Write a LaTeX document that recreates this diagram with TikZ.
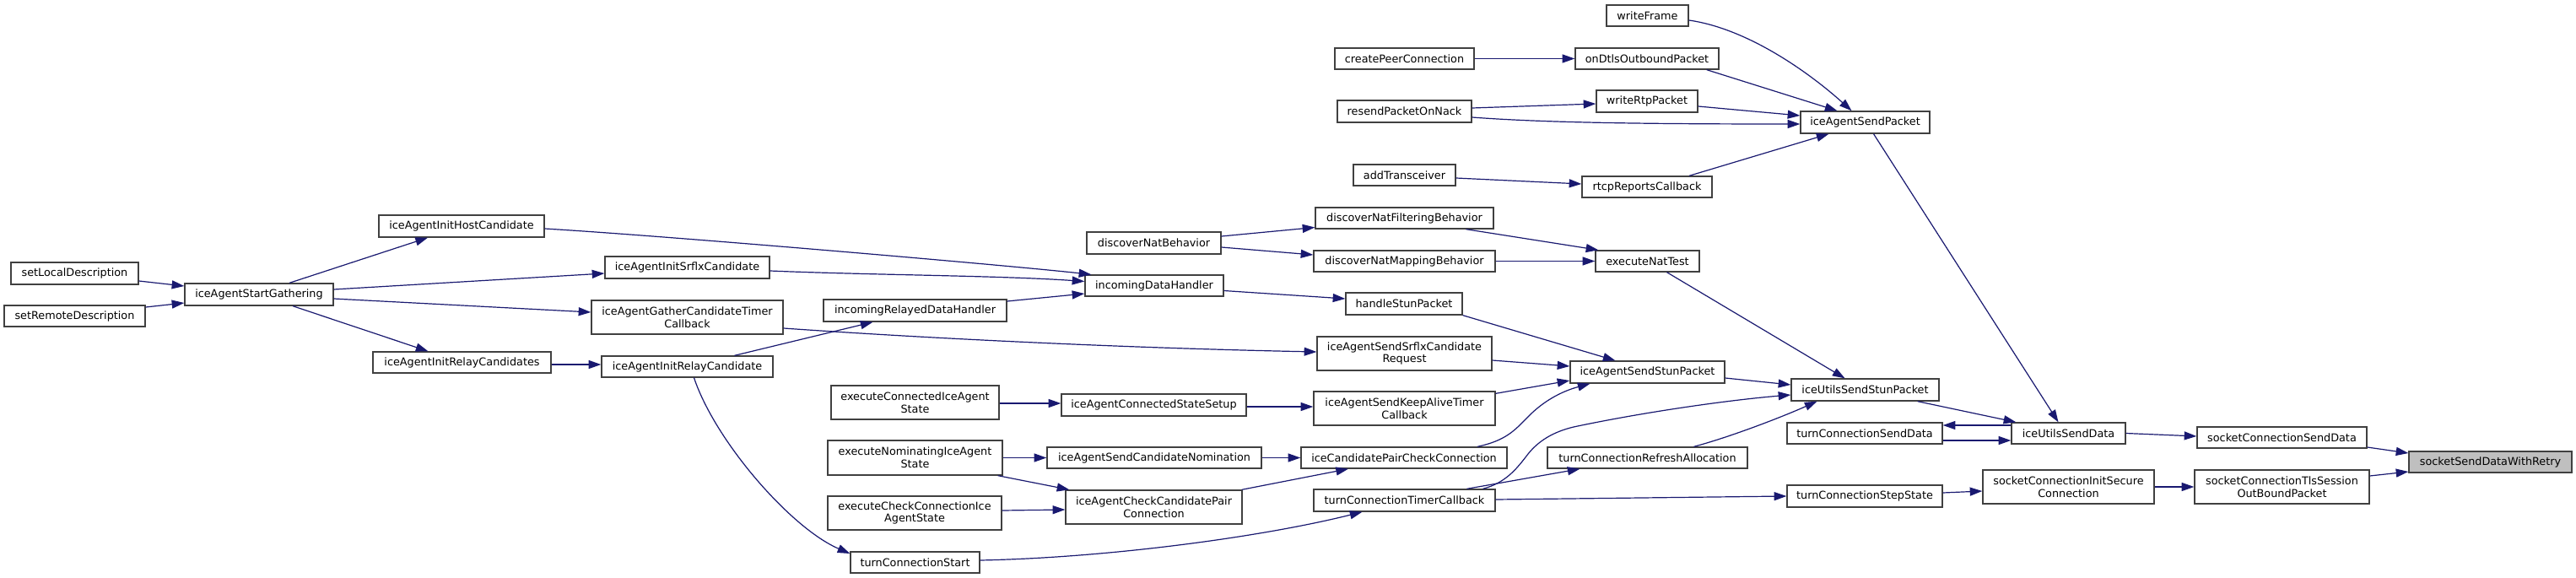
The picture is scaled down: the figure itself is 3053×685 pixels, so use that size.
\documentclass[tikz,border=0pt]{standalone}
\usepackage{fontspec}
\setmainfont{DejaVu Sans}
\usetikzlibrary{arrows.meta,calc}
\definecolor{edgec}{HTML}{191970}
\definecolor{boxc}{HTML}{404040}
\definecolor{hl}{HTML}{BFBFBF}
\begin{document}
\begin{tikzpicture}[x=0.75pt,y=-0.75pt,
  fn/.style={draw=boxc, line width=1pt, fill=white, inner sep=0pt, align=center,
             font=\fontsize{9.6}{11}\selectfont, text=black},
  sz/.style 2 args={minimum width=#1*0.75pt, minimum height=#2*0.75pt},
  edge/.style={draw=edgec, line width=0.9pt, -{Triangle[length=11pt,width=7.5pt]}}]
\fill[white] (0,0) rectangle (3053,685);
\useasboundingbox (0,0) rectangle (3053,685);
% column 1
\node[fn,sz={151}{26}] (setLocal) at (88.5,324) {setLocalDescription};
\node[fn,sz={167}{25}] (setRemote) at (88.5,374.5) {setRemoteDescription};
% column 2
\node[fn,sz={176}{26}] (gather) at (307,349) {iceAgentStartGathering};
% column 3
\node[fn,sz={196}{26}] (host) at (547,268) {iceAgentInitHostCandidate};
\node[fn,sz={211}{25}] (relays) at (547.5,429.5) {iceAgentInitRelayCandidates};
% column 4
\node[fn,sz={195}{26}] (srflx) at (814.5,317) {iceAgentInitSrflxCandidate};
\node[fn,sz={227}{40}] (gtimer) at (814.5,376) {iceAgentGatherCandidateTimer\\Callback};
\node[fn,sz={203}{25}] (relay) at (814.5,434.5) {iceAgentInitRelayCandidate};
% column 5
\node[fn,sz={217}{26}] (relayed) at (1084.5,368) {incomingRelayedDataHandler};
\node[fn,sz={199}{40}] (execConn) at (1084.5,477) {executeConnectedIceAgent\\State};
\node[fn,sz={207}{41}] (execNom) at (1084.5,542.5) {executeNominatingIceAgent\\State};
\node[fn,sz={206}{40}] (execCheck) at (1084,608) {executeCheckConnectionIce\\AgentState};
\node[fn,sz={153}{25}] (tstart) at (1084.5,666.5) {turnConnectionStart};
% column 6
\node[fn,sz={159}{26}] (natb) at (1367.5,288) {discoverNatBehavior};
\node[fn,sz={164}{25}] (incoming) at (1368,338.5) {incomingDataHandler};
\node[fn,sz={219}{26}] (connSetup) at (1367.5,480) {iceAgentConnectedStateSetup};
\node[fn,sz={254}{25}] (sendNom) at (1368,542.5) {iceAgentSendCandidateNomination};
\node[fn,sz={209}{40}] (checkPair) at (1367.5,601) {iceAgentCheckCandidatePair\\Connection};
% column 7
\node[fn,sz={165}{25}] (createPeer) at (1664.5,69.5) {createPeerConnection};
\node[fn,sz={159}{26}] (resend) at (1664.5,132) {resendPacketOnNack};
\node[fn,sz={121}{25}] (addTr) at (1664.5,207.5) {addTransceiver};
\node[fn,sz={211}{25}] (natFilt) at (1664.5,258.5) {discoverNatFilteringBehavior};
\node[fn,sz={215}{25}] (natMap) at (1664.5,309.5) {discoverNatMappingBehavior};
\node[fn,sz={138}{26}] (handleStun) at (1664,360) {handleStunPacket};
\node[fn,sz={207}{40}] (srflxReq) at (1664.5,419) {iceAgentSendSrflxCandidate\\Request};
\node[fn,sz={215}{40}] (keepAlive) at (1664.5,484) {iceAgentSendKeepAliveTimer\\Callback};
\node[fn,sz={244}{25}] (pairCheck) at (1664,542.5) {iceCandidatePairCheckConnection};
\node[fn,sz={215}{26}] (ttimer) at (1664.5,593) {turnConnectionTimerCallback};
% column 8
\node[fn,sz={97}{25}] (writeFrame) at (1952.5,18.5) {writeFrame};
\node[fn,sz={170}{25}] (onDtls) at (1952,69.5) {onDtlsOutboundPacket};
\node[fn,sz={120}{26}] (writeRtp) at (1952,120) {writeRtpPacket};
\node[fn,sz={154}{25}] (rtcp) at (1952,221.5) {rtcpReportsCallback};
\node[fn,sz={123}{25}] (natTest) at (1952.5,309.5) {executeNatTest};
\node[fn,sz={183}{26}] (sendStun) at (1952.5,441) {iceAgentSendStunPacket};
\node[fn,sz={237}{25}] (refresh) at (1952.5,542.5) {turnConnectionRefreshAllocation};
% column 9
\node[fn,sz={153}{26}] (sendPacket) at (2210.5,145) {iceAgentSendPacket};
\node[fn,sz={175}{26}] (utilsStun) at (2210.5,462) {iceUtilsSendStunPacket};
\node[fn,sz={184}{25}] (turnSend) at (2210,513.5) {turnConnectionSendData};
\node[fn,sz={184}{26}] (stepState) at (2210,588) {turnConnectionStepState};
% column 10
\node[fn,sz={135}{25}] (utilsData) at (2451.5,513.5) {iceUtilsSendData};
\node[fn,sz={203}{40}] (initSecure) at (2451.5,577) {socketConnectionInitSecure\\Connection};
% column 11
\node[fn,sz={201}{25}] (connSend) at (2704.5,518.5) {socketConnectionSendData};
\node[fn,sz={207}{40}] (tlsOut) at (2704.5,577) {socketConnectionTlsSession\\OutBoundPacket};
% column 12
\node[fn,sz={193}{25},fill=hl] (retry) at (2951.5,547.5) {socketSendDataWithRetry};

% edges
\draw[edge] ($(setLocal.east)+(0,9)$) -- ($(gather.west)+(0,-10)$);
\draw[edge] ($(setRemote.east)+(0,-10.5)$) -- ($(gather.west)+(0,10)$);
\draw[edge] ($(gather.north)+(36,0)$) -- ($(host.south)+(-40,0)$);
\draw[edge] ($(gather.east)+(0,-6)$) -- ($(srflx.west)+(0,7)$);
\draw[edge] ($(gather.east)+(0,5)$) -- ($(gtimer.west)+(0,-6)$);
\draw[edge] ($(gather.south)+(40,0)$) -- ($(relays.north)+(-40,0)$);
\draw[edge] ($(relays.east)+(0,2.5)$) -- ($(relay.west)+(0,-2.5)$);
\draw[edge] ($(host.east)+(0,3)$) .. controls +(150,9) and +(-100,-11) .. ($(incoming.north west)+(8,0)$);
\draw[edge] ($(srflx.east)+(0,4)$) .. controls +(120,5) and +(-100,-7) .. ($(incoming.west)+(0,-5)$);
\draw[edge] ($(relayed.east)+(0,-11)$) -- ($(incoming.west)+(0,9.5)$);
\draw[edge] ($(relay.north)+(56,0)$) -- ($(relayed.south)+(-50,0)$);
\draw[edge] ($(gtimer.east)+(0,13)$) .. controls +(200,14) and +(-200,-4) .. ($(srflxReq.west)+(0,-2)$);
\draw[edge] ($(relay.south)+(8,0)$) .. controls +(25,75) and +(-70,-30) .. ($(tstart.west)+(0,-10.5)$);
\draw[edge] ($(natb.east)+(0,-8)$) -- ($(natFilt.west)+(0,11)$);
\draw[edge] ($(natb.east)+(0,5)$) -- ($(natMap.west)+(0,-7.5)$);
\draw[edge] ($(incoming.east)+(0,6)$) -- ($(handleStun.west)+(0,-6)$);
\draw[edge] ($(execConn.east)+(0,1)$) -- ($(connSetup.west)+(0,-2)$);
\draw[edge] ($(connSetup.east)+(0,2)$) -- ($(keepAlive.west)+(0,-2)$);
\draw[edge] (execNom.east) -- (sendNom.west);
\draw[edge] ($(execNom.south east)+(-6,0)$) -- ($(checkPair.north west)+(5,0)$);
\draw[edge] ($(execCheck.east)+(0,-3)$) -- ($(checkPair.west)+(0,3)$);
\draw[edge] (sendNom.east) -- (pairCheck.west);
\draw[edge] ($(checkPair.north east)+(-1,0)$) -- ($(pairCheck.south)+(-66,0)$);
\draw[edge] ($(tstart.east)+(0,-2.5)$) .. controls +(150,-3) and +(-120,30) .. ($(ttimer.south)+(-50,0)$);
\draw[edge] (createPeer.east) -- (onDtls.west);
\draw[edge] ($(resend.east)+(0,-4)$) -- ($(writeRtp.west)+(0,3)$);
\draw[edge] ($(resend.east)+(0,7)$) .. controls +(80,6) and +(-200,0) .. ($(sendPacket.west)+(0,2)$);
\draw[edge] ($(addTr.east)+(0,3.5)$) -- ($(rtcp.west)+(0,-3.5)$);
\draw[edge] ($(writeFrame.east)+(0,5.5)$) .. controls +(70,10) and +(-50,-45) .. ($(sendPacket.north)+(-16,0)$);
\draw[edge] ($(onDtls.south east)+(-15,0)$) -- ($(sendPacket.north)+(-33,0)$);
\draw[edge] ($(writeRtp.east)+(0,6)$) -- ($(sendPacket.west)+(0,-8)$);
\draw[edge] ($(rtcp.north)+(50,0)$) -- ($(sendPacket.south)+(-43,0)$);
\draw[edge] ($(natFilt.south)+(73,0)$) -- ($(natTest.north west)+(4,0)$);
\draw[edge] (natMap.east) -- (natTest.west);
\draw[edge] ($(natTest.south)+(23,0)$) -- ($(utilsStun.north)+(-24,0)$);
\draw[edge] (handleStun.south east) -- ($(sendStun.north)+(-38,0)$);
\draw[edge] ($(srflxReq.east)+(0,8)$) -- ($(sendStun.west)+(0,-7)$);
\draw[edge] ($(keepAlive.north east)+(0,3)$) -- ($(sendStun.west)+(0,10)$);
\draw[edge] ($(pairCheck.north)+(87,0)$) .. controls (1785,522) and (1795,510) .. (1810,495) .. controls (1828,476) and (1850,464) .. ($(sendStun.south)+(-68,0)$);
\draw[edge] ($(ttimer.north)+(93,0)$) .. controls (1785,572) and (1798,555) .. (1811,538) .. controls (1823,523) and (1840,512) .. (1865,506) .. controls (1950,488) and (2050,474) .. ($(utilsStun.west)+(0,6)$);
\draw[edge] ($(ttimer.north)+(74,0)$) -- ($(refresh.south)+(-80,0)$);
\draw[edge] ($(ttimer.east)+(0,-1)$) -- (stepState.west);
\draw[edge] ($(sendPacket.south)+(10,0)$) -- ($(utilsData.north)+(-12,0)$);
\draw[edge] ($(utilsStun.south east)+(-26,0)$) -- ($(utilsData.north west)+(6,0)$);
\draw[edge] ($(utilsData.west)+(0,-9.5)$) -- ($(turnSend.east)+(0,-9.5)$);
\draw[edge] ($(turnSend.east)+(0,8.5)$) -- ($(utilsData.west)+(0,8.5)$);
\draw[edge] (utilsData.east) -- ($(connSend.west)+(0,-1.5)$);
\draw[edge] ($(stepState.east)+(0,-4)$) -- ($(initSecure.west)+(0,5)$);
\draw[edge] (initSecure.east) -- (tlsOut.west);
\draw[edge] ($(connSend.east)+(0,11.5)$) -- ($(retry.west)+(0,-10.5)$);
\draw[edge] ($(tlsOut.east)+(0,-13)$) -- ($(retry.west)+(0,11.5)$);
\draw[edge] ($(sendStun.east)+(0,7)$) -- ($(utilsStun.west)+(0,-6)$);
\draw[edge] ($(refresh.north)+(55,0)$) .. controls (2050,518) and (2110,495) .. ($(utilsStun.south)+(-57,0)$);
\end{tikzpicture}
\end{document}
